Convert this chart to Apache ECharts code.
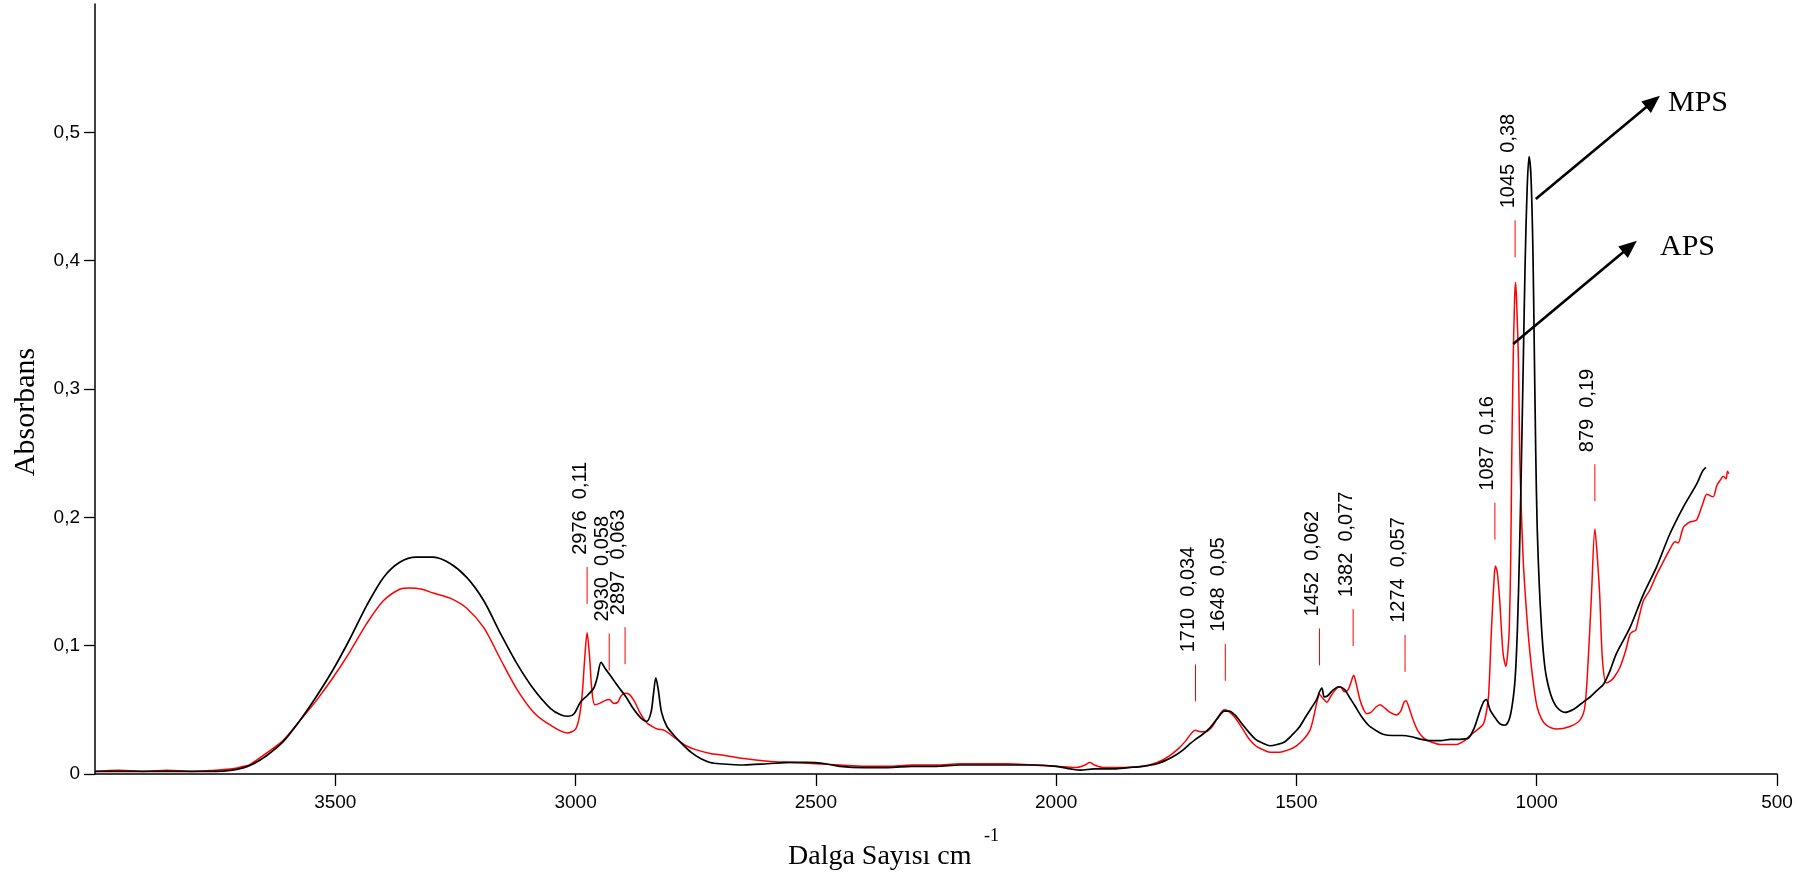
<!DOCTYPE html>
<html>
<head>
<meta charset="utf-8">
<script src="https://cdn.jsdelivr.net/npm/echarts@6/dist/echarts.min.js"></script>
<style>
html,body{margin:0;padding:0;background:#fff;}
#chart{width:1818px;height:881px;}
</style>
</head>
<body>
<div id="chart"></div>
<script>
// ---- Data (wavenumber cm-1, absorbance) ----
const mpsWave = [4000,3900,3800,3750,3714,3690,3670,3644,3609,3575,3540,3505,3470,3435,3400,3366,3331,3296,3261,3226,3191,3157,3122,3087,3052,3030,3015,3003,2990,2976,2962,2955,2947,2938,2928,2911,2895,2880,2865,2852,2843,2838,2833,2828,2821,2810,2795,2780,2760,2740,2720,2700,2650,2600,2550,2520,2480,2450,2400,2350,2300,2250,2200,2150,2100,2050,2000,1970,1950,1920,1880,1850,1820,1790,1770,1750,1735,1720,1710,1695,1680,1665,1650,1640,1628,1615,1600,1585,1570,1555,1540,1525,1510,1495,1480,1468,1458,1452,1447,1442,1435,1425,1412,1400,1390,1378,1365,1350,1335,1320,1300,1280,1260,1240,1220,1200,1180,1160,1142,1130,1120,1111,1105,1097,1085,1076,1066,1056,1048,1044,1040,1036,1032,1028,1024,1020,1016,1012,1008,1005,1002,999,995,990,985,980,970,958,941,925,917,900,889,875,861,848,834,806,778,751,723,695,667,655,648];
const mpsAbs  = [0.002,0.002,0.002,0.002,0.003,0.005,0.008,0.014,0.025,0.041,0.060,0.081,0.105,0.131,0.153,0.165,0.169,0.169,0.164,0.153,0.135,0.110,0.086,0.066,0.051,0.046,0.045,0.047,0.056,0.061,0.067,0.075,0.087,0.082,0.077,0.068,0.060,0.051,0.044,0.041,0.048,0.062,0.075,0.066,0.048,0.037,0.030,0.024,0.017,0.012,0.009,0.008,0.007,0.008,0.009,0.009,0.008,0.006,0.005,0.005,0.006,0.006,0.007,0.007,0.007,0.007,0.006,0.004,0.003,0.004,0.004,0.005,0.006,0.008,0.011,0.015,0.019,0.024,0.027,0.031,0.036,0.043,0.049,0.049,0.046,0.040,0.033,0.027,0.024,0.022,0.023,0.025,0.030,0.036,0.045,0.052,0.058,0.064,0.067,0.060,0.061,0.065,0.068,0.066,0.060,0.053,0.045,0.038,0.034,0.031,0.030,0.030,0.029,0.027,0.026,0.026,0.027,0.027,0.028,0.036,0.047,0.056,0.058,0.050,0.043,0.039,0.038,0.044,0.062,0.080,0.115,0.170,0.240,0.320,0.400,0.455,0.481,0.466,0.410,0.330,0.250,0.192,0.150,0.114,0.090,0.076,0.061,0.052,0.048,0.050,0.052,0.057,0.060,0.065,0.070,0.080,0.094,0.114,0.140,0.161,0.187,0.208,0.226,0.236,0.239];

const apsWave = [4000,3950,3900,3850,3800,3750,3714,3690,3679,3644,3609,3575,3540,3505,3470,3435,3400,3366,3345,3320,3296,3261,3226,3191,3157,3122,3087,3052,3017,3000,2992,2986,2981,2976,2971,2966,2960,2950,2940,2930,2920,2912,2905,2897,2888,2878,2865,2852,2840,2830,2815,2800,2785,2770,2750,2720,2700,2650,2600,2550,2500,2450,2400,2350,2300,2250,2200,2150,2100,2050,2000,1960,1940,1930,1920,1900,1860,1820,1790,1765,1745,1730,1718,1710,1700,1688,1675,1662,1650,1642,1630,1615,1600,1585,1570,1555,1535,1515,1500,1485,1472,1465,1458,1452,1445,1437,1428,1418,1409,1400,1392,1386,1381,1376,1368,1360,1354,1345,1335,1326,1318,1305,1292,1283,1276,1272,1266,1258,1248,1235,1220,1200,1185,1167,1150,1139,1125,1111,1104,1100,1094,1089,1086,1082,1077,1070,1064,1060,1057,1054,1052,1049,1046,1044,1042,1038,1035,1028,1020,1014,1006,999,990,980,959,931,910,900,893,886,879,875,869,863,855,845,838,827,815,806,800,794,788,778,765,751,740,723,712,706,695,683,675,667,655,646,640,633,625,618,612,606,603,600];
const apsAbs  = [0.002,0.003,0.002,0.003,0.002,0.003,0.004,0.006,0.007,0.016,0.026,0.041,0.057,0.075,0.095,0.117,0.135,0.144,0.145,0.144,0.141,0.137,0.129,0.114,0.090,0.066,0.048,0.038,0.032,0.035,0.045,0.063,0.090,0.110,0.092,0.065,0.054,0.055,0.057,0.058,0.055,0.056,0.061,0.063,0.062,0.057,0.047,0.040,0.037,0.035,0.034,0.030,0.026,0.022,0.019,0.016,0.015,0.012,0.010,0.009,0.008,0.007,0.006,0.006,0.007,0.007,0.008,0.008,0.008,0.007,0.006,0.005,0.007,0.009,0.007,0.005,0.005,0.006,0.009,0.014,0.020,0.026,0.032,0.034,0.033,0.033,0.037,0.045,0.050,0.049,0.045,0.037,0.028,0.022,0.019,0.017,0.017,0.019,0.022,0.027,0.034,0.043,0.055,0.062,0.059,0.056,0.061,0.066,0.068,0.064,0.066,0.072,0.077,0.071,0.058,0.050,0.047,0.048,0.052,0.054,0.052,0.048,0.046,0.049,0.056,0.057,0.052,0.043,0.034,0.028,0.025,0.023,0.023,0.023,0.026,0.030,0.034,0.039,0.050,0.062,0.114,0.150,0.162,0.157,0.135,0.094,0.084,0.096,0.114,0.170,0.244,0.322,0.370,0.383,0.370,0.322,0.244,0.166,0.120,0.094,0.068,0.052,0.043,0.038,0.035,0.037,0.042,0.052,0.088,0.140,0.191,0.175,0.140,0.088,0.071,0.073,0.076,0.083,0.096,0.109,0.111,0.112,0.121,0.135,0.143,0.155,0.163,0.175,0.181,0.180,0.192,0.196,0.197,0.198,0.210,0.218,0.217,0.216,0.225,0.229,0.232,0.230,0.236,0.234];

// Labelled peaks
const peakWave = [2976,2930,2897,1710,1648,1452,1382,1274,1087,1045,879];
const peakAbs  = [0.11,0.058,0.063,0.034,0.05,0.062,0.077,0.057,0.16,0.38,0.19];

// Axis ticks
const xTicks = [3500,3000,2500,2000,1500,1000,500];
const yTicks = [0,0.1,0.2,0.3,0.4,0.5];

// Arrow annotations (data coords) : start -> end
const mpsArrow = [[1002,0.448],[758,0.524]];
const apsArrow = [[1049,0.335],[806,0.411]];

const zip = (a,b) => a.map((v,i)=>[v,b[i]]);
const fmt = v => String(v).replace('.', ',');

const chart = echarts.init(document.getElementById('chart'), null, {renderer:'canvas'});
const sans = '"Liberation Sans", Arial, sans-serif';
const serif = '"Liberation Serif", "Times New Roman", serif';

chart.setOption({
  animation:false,
  backgroundColor:'#fff',
  grid:{left:95, right:41, top:4, bottom:107, containLabel:false},
  xAxis:{
    type:'value', min:500, max:4000, interval:500, inverse:true,
    axisLine:{show:true, onZero:false, lineStyle:{color:'#000', width:1.5}},
    axisTick:{show:true, length:12, customValues:xTicks, lineStyle:{color:'#000', width:1.3}},
    axisLabel:{customValues:xTicks, color:'#000', fontSize:19, fontFamily:sans, margin:19,
      formatter: v => String(v)},
    splitLine:{show:false}
  },
  yAxis:{
    type:'value', min:0, max:0.6, interval:0.1,
    axisLine:{show:true, onZero:false, lineStyle:{color:'#000', width:1.5}},
    axisTick:{show:true, length:11, customValues:yTicks, lineStyle:{color:'#000', width:1.3}},
    axisLabel:{customValues:yTicks, color:'#000', fontSize:19, fontFamily:sans, margin:15,
      formatter: v => v === 0 ? '0' : v.toFixed(1).replace('.', ',')},
    splitLine:{show:false}
  },
  series:[
    {
      name:'APS', type:'line', data:zip(apsWave, apsAbs), showSymbol:false,
      smooth:0.3,
      lineStyle:{color:'#ff0000', width:1.5}, z:3, silent:true
    },
    {
      name:'MPS', type:'line', data:zip(mpsWave, mpsAbs), showSymbol:false,
      smooth:0.3,
      lineStyle:{color:'#000000', width:1.7}, z:4, silent:true,
      markLine:{
        silent:true, symbol:['none','triangle'], symbolSize:[15,18],
        label:{show:false},
        lineStyle:{color:'#000', width:2.6, type:'solid'},
        emphasis:{disabled:true},
        data:[
          [{coord:mpsArrow[0]},{coord:mpsArrow[1]}],
          [{coord:apsArrow[0]},{coord:apsArrow[1]}]
        ]
      }
    },
    {
      type:'custom', silent:true, clip:false, z:5,
      data: zip(peakWave, peakAbs),
      renderItem:(params, api) => {
        const i = params.dataIndex;
        const p = api.coord([api.value(0), api.value(1)]);
        return {
          type:'group',
          children:[
            {type:'line', shape:{x1:p[0], y1:p[1]-29, x2:p[0], y2:p[1]-66},
             style:{stroke:'#ff0000', lineWidth:1}},
            {type:'text', x:p[0]-7, y:p[1]-78, rotation:Math.PI/2,
             style:{text: peakWave[i] + '  ' + fmt(peakAbs[i]), align:'left', verticalAlign:'middle',
                    font:'20px ' + sans, fill:'#000'}}
          ]
        };
      }
    }
  ],
  graphic:[
    {type:'text', x:788, y:857, style:{text:'Dalga Sayısı cm', font:'28px ' + serif, fill:'#000', verticalAlign:'middle'}},
    {type:'text', x:984, y:836, style:{text:'-1', font:'18px ' + serif, fill:'#000', verticalAlign:'middle'}},
    {type:'text', x:26, y:412, rotation:Math.PI/2, style:{text:'Absorbans', font:'30px ' + serif, fill:'#000', align:'center', verticalAlign:'middle'}},
    {type:'text', x:1668, y:103, style:{text:'MPS', font:'30px ' + serif, fill:'#000', verticalAlign:'middle'}},
    {type:'text', x:1660, y:247, style:{text:'APS', font:'30px ' + serif, fill:'#000', verticalAlign:'middle'}}
  ]
});
</script>
</body>
</html>
